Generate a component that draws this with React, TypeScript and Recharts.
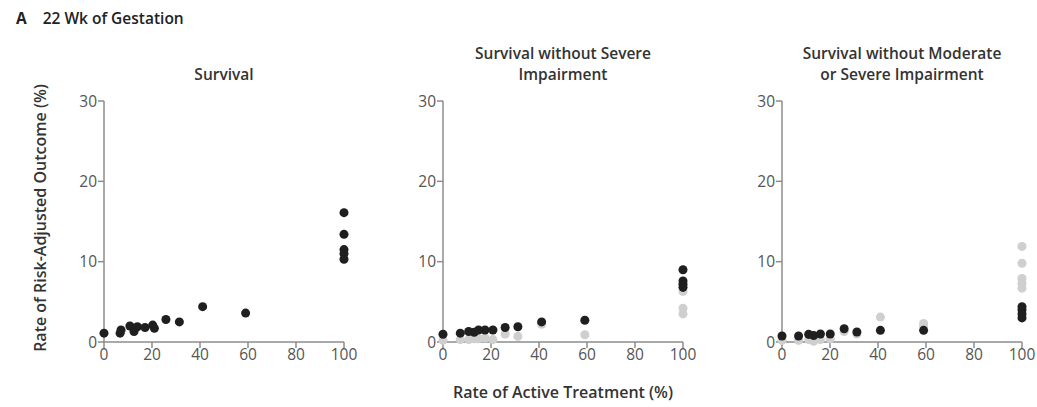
import React from 'react';
import { ScatterChart, Scatter, XAxis, YAxis, ZAxis } from 'recharts';

type P = { x: number; y: number };
const pts = (a: number[][]): P[] => a.map(([x, y]) => ({ x, y }));

const xTicks = [0, 20, 40, 60, 80, 100];
const yTicks = [0, 10, 20, 30];

const survivalDark = pts([
  [0, 1.1], [6.7, 1.1], [7.1, 1.5], [10.8, 2.0], [12.5, 1.3], [13.9, 1.9], [17.1, 1.8],
  [20.3, 2.1], [21, 1.7], [25.8, 2.8], [31.4, 2.5], [41.1, 4.4], [59, 3.6],
  [100, 16.1], [100, 13.4], [100, 11.5], [100, 11.0], [100, 10.3],
]);
const survivalLight = pts([]);

const severeDark = pts([
  [0, 0.96], [7.2, 1.1], [10.7, 1.3], [13, 1.2], [14.8, 1.5], [17.5, 1.5], [20.8, 1.5],
  [25.9, 1.8], [31.2, 1.9], [41.1, 2.5], [59.1, 2.7],
  [100, 9.0], [100, 7.6], [100, 7.2], [100, 6.8],
]);
const severeLight = pts([
  [0, 0.2], [7.2, 0.3], [10.7, 0.3], [13, 0.4], [14.8, 0.4], [17.5, 0.5], [20.8, 0.3],
  [25.9, 1.0], [31.2, 0.7], [41.1, 2.2], [59.1, 0.9],
  [100, 6.3], [100, 4.2], [100, 3.5],
]);

const moderateDark = pts([
  [0, 0.75], [6.9, 0.75], [11.1, 0.95], [13.2, 0.8], [16, 1.0], [20.1, 1.0],
  [25.9, 1.65], [31.2, 1.25], [41, 1.45], [59, 1.45],
  [100, 4.4], [100, 4.0], [100, 3.5], [100, 3.0],
]);
const moderateLight = pts([
  [0, 0.2], [6.9, 0.2], [11.1, 0.3], [13.2, 0.1], [16, 0.3], [20.1, 0.4],
  [25.9, 1.3], [31.2, 1.0], [41, 3.1], [59, 2.3], [59, 2.0],
  [100, 11.9], [100, 9.8], [100, 7.9], [100, 7.3], [100, 6.7],
]);

const panelTitles = [
  ['Survival'],
  ['Survival without Severe', 'Impairment'],
  ['Survival without Moderate', 'or Severe Impairment'],
];

const FONT = '"Open Sans", "Noto Sans", sans-serif';
const AXIS = '#8c8c8c';
const TICK = '#555555';
const DARK = '#1f1f1f';
const LIGHT = '#cfcfcf';

const tickStyle = { fill: TICK, fontSize: 15.5, fontFamily: FONT };

function Panel({ left, dark, light, title }: { left: number; dark: P[]; light: P[]; title: string[] }) {
  return (
    <div style={{ position: 'absolute', left, top: 0, width: 372, height: 407 }}>
      <div
        style={{
          position: 'absolute',
          left: 74,
          width: 300,
          top: title.length === 1 ? 64 : 43,
          textAlign: 'center',
          fontFamily: FONT,
          fontWeight: 600,
          fontSize: 15.5,
          lineHeight: '21px',
          color: '#333',
          whiteSpace: 'nowrap',
        }}
      >
        {title.map((t, i) => (
          <div key={i}>{t}</div>
        ))}
      </div>
      <div style={{ position: 'absolute', left: 0, top: 0 }}>
        <ScatterChart width={372} height={407} margin={{ top: 101, right: 28, bottom: 35, left: 69 }}>
          <XAxis
            type="number"
            dataKey="x"
            domain={[0, 100]}
            ticks={xTicks}
            height={30}
            axisLine={{ stroke: AXIS, strokeWidth: 1.5 }}
            tickLine={{ stroke: AXIS, strokeWidth: 1.5 }}
            tickSize={6}
            tickMargin={1}
            tick={tickStyle}
            interval={0}
          />
          <YAxis
            type="number"
            dataKey="y"
            domain={[0, 30]}
            ticks={yTicks}
            width={35}
            axisLine={{ stroke: AXIS, strokeWidth: 1.5 }}
            tickLine={{ stroke: AXIS, strokeWidth: 1.5 }}
            tickSize={6}
            tickMargin={1}
            tick={tickStyle}
            interval={0}
          />
          <ZAxis range={[72, 72]} />
          <Scatter data={light} fill={LIGHT} isAnimationActive={false} />
          <Scatter data={dark} fill={DARK} isAnimationActive={false} />
        </ScatterChart>
      </div>
    </div>
  );
}

export default function App() {
  return (
    <div style={{ position: 'fixed', left: 0, top: 0, width: 1037, height: 407, background: '#fff', overflow: 'hidden' }}>
      <div
        style={{
          position: 'absolute',
          left: 16,
          top: 7,
          fontFamily: FONT,
          fontWeight: 600,
          fontSize: 15.5,
          color: '#222',
          whiteSpace: 'nowrap',
        }}
      >
        <span style={{ fontWeight: 700, marginRight: 16 }}>A</span>
        22 Wk of Gestation
      </div>
      <Panel left={0} dark={survivalDark} light={survivalLight} title={panelTitles[0]} />
      <Panel left={339} dark={severeDark} light={severeLight} title={panelTitles[1]} />
      <Panel left={678} dark={moderateDark} light={moderateLight} title={panelTitles[2]} />
      <div
        style={{
          position: 'absolute',
          left: 40,
          top: 218,
          transform: 'translate(-50%, -50%) rotate(-90deg)',
          fontFamily: FONT,
          fontWeight: 600,
          fontSize: 16,
          color: '#333',
          whiteSpace: 'nowrap',
        }}
      >
        Rate of Risk-Adjusted Outcome (%)
      </div>
      <div
        style={{
          position: 'absolute',
          left: 563,
          top: 392,
          transform: 'translate(-50%, -50%)',
          fontFamily: FONT,
          fontWeight: 600,
          fontSize: 16,
          color: '#333',
          whiteSpace: 'nowrap',
        }}
      >
        Rate of Active Treatment (%)
      </div>
    </div>
  );
}
